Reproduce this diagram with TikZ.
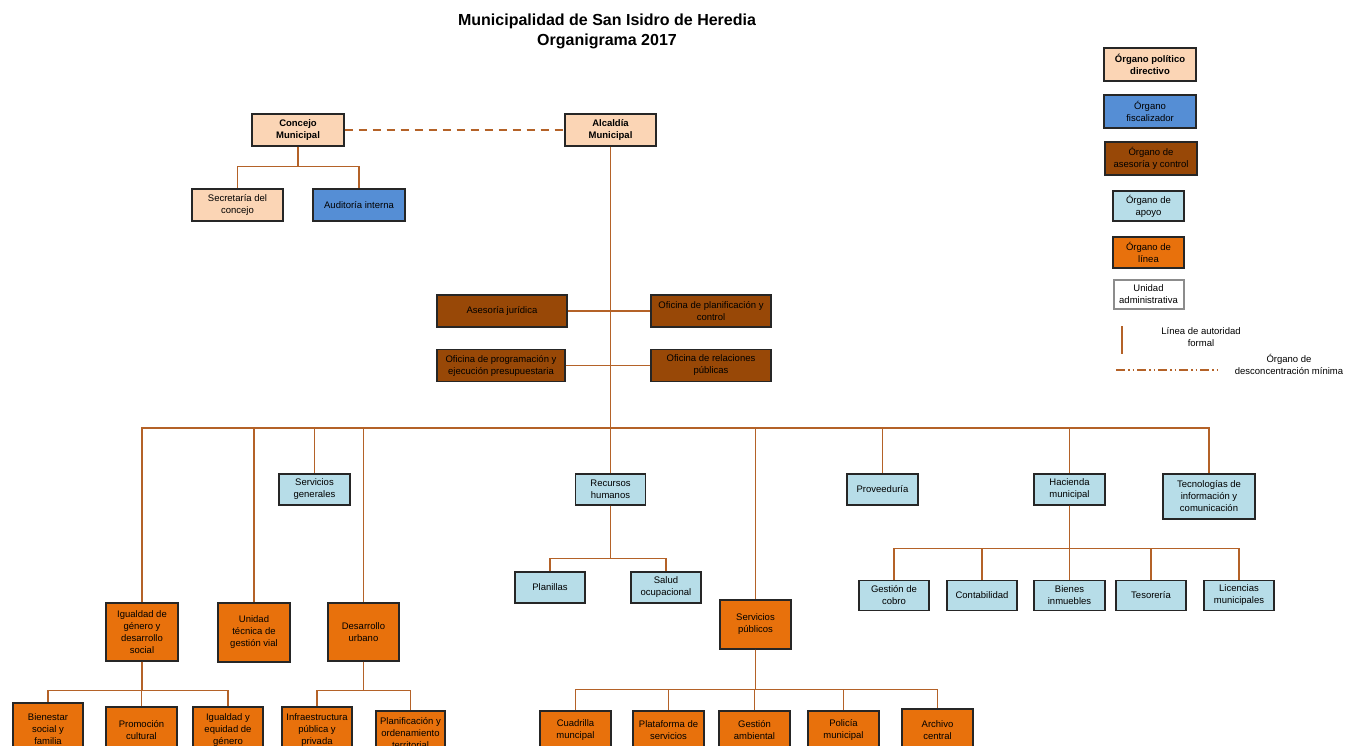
\documentclass[tikz,border=0pt]{standalone}
\usepackage{fontspec}
\setmainfont{Liberation Sans}
\definecolor{peach}{HTML}{FBD5B5}
\definecolor{fblue}{HTML}{558ED5}
\definecolor{fbrown}{HTML}{984807}
\definecolor{lblue}{HTML}{B7DDE8}
\definecolor{forange}{HTML}{E8710C}
\definecolor{conncol}{RGB}{180,98,40}
\definecolor{bordercol}{HTML}{262626}
\tikzset{
  box/.style={draw=bordercol, line width=1.1pt, inner sep=1pt, align=center,
    font=\fontsize{9.5}{12}\selectfont},
  pol/.style={box, fill=peach, font=\fontsize{9.5}{12}\selectfont\bfseries},
  sec/.style={box, fill=peach},
  fis/.style={box, fill=fblue},
  ase/.style={box, fill=fbrown},
  apo/.style={box, fill=lblue},
  lin/.style={box, fill=forange},
  uadm/.style={box, fill=white, draw=gray!90, line width=2pt},
  conn/.style={draw=conncol, line width=1.3pt},
  dconn/.style={conn, dash pattern=on 8pt off 6pt},
  ddconn/.style={conn, dash pattern=on 9pt off 3pt on 1.5pt off 3pt on 1.5pt off 3pt},
  ltext/.style={align=center, inner sep=0pt, font=\fontsize{9.5}{12}\selectfont},
  wh/.style 2 args={minimum width=#1pt, minimum height=#2pt}
}
\begin{document}
\begin{tikzpicture}[x=1pt,y=-1pt]
\useasboundingbox (0,0) rectangle (1346,746);
\clip (0,0) rectangle (1346,746);
\fill[white] (0,0) rectangle (1346,746);

% title
\node[align=center, inner sep=0pt, font=\fontsize{16}{19.5}\selectfont\bfseries] (title) at (607,31.5)
  {Municipalidad de San Isidro de Heredia\\Organigrama 2017};

% top
\node[pol, wh={92}{32}] (concejo) at (298,130) {Concejo\\Municipal};
\node[pol, wh={91}{32}] (alcaldia) at (610.5,130) {Alcaldía\\Municipal};
\node[sec, wh={91}{32}] (secretaria) at (237.5,205) {Secretaría del\\concejo};
\node[fis, wh={92}{32}] (auditoria) at (359,205) {Auditoría interna};

% staff
\node[ase, wh={130}{32}] (asesoria) at (502,311) {Asesoría jurídica};
\node[ase, wh={120}{32}] (planif) at (711,311) {Oficina de planificación y\\control};
\node[ase, wh={128}{32}] (program) at (501,365.5) {Oficina de programación y\\ejecución presupuestaria};
\node[ase, wh={120}{32}] (relaciones) at (711,365.5) {Oficina de relaciones\\públicas};

% second level
\node[apo, wh={71}{31}] (servgen) at (314.5,489.5) {Servicios\\generales};
\node[apo, wh={70}{31}] (rh) at (610.5,489.5) {Recursos\\humanos};
\node[apo, wh={71}{31}] (prov) at (882.5,489.5) {Proveeduría};
\node[apo, wh={71}{31}] (hacienda) at (1069.5,489.5) {Hacienda\\municipal};
\node[apo, wh={92}{45}] (tec) at (1209,496.5) {Tecnologías de\\información y\\comunicación};

\node[apo, wh={70}{31}] (planillas) at (550,587.5) {Planillas};
\node[apo, wh={70}{31}] (salud) at (666,587.5) {Salud\\ocupacional};

\node[apo, wh={70}{30}] (cobro) at (894,595.5) {Gestión de\\cobro};
\node[apo, wh={70}{30}] (contab) at (982,595.5) {Contabilidad};
\node[apo, wh={71}{30}] (bienes) at (1069.5,595.5) {Bienes\\inmuebles};
\node[apo, wh={70}{30}] (tesoreria) at (1151,595.5) {Tesorería};
\node[apo, wh={70}{30}] (licencias) at (1239,595.5) {Licencias\\municipales};

\node[lin, wh={72}{58}] (igualdad) at (142,632) {Igualdad de\\género y\\desarrollo\\social};
\node[lin, wh={72}{59}] (vial) at (254,632.5) {Unidad\\técnica de\\gestión vial};
\node[lin, wh={71}{58}] (desurb) at (363.5,632) {Desarrollo\\urbano};
\node[lin, wh={71}{49}] (servpub) at (755.5,624.5) {Servicios\\públicos};

% bottom row
\node[lin, wh={70}{53}] (bienestar) at (48,729.5) {Bienestar\\social y\\familia};
\node[lin, wh={71}{46}] (promocion) at (141.5,730) {Promoción\\cultural};
\node[lin, wh={70}{46}] (igualdady) at (228,730) {Igualdad y\\equidad de\\género};
\node[lin, wh={70}{46}] (infra) at (317,730) {Infraestructura\\pública y\\privada};
\node[lin, wh={69}{44}] (planterr) at (410.5,733) {Planificación y\\ordenamiento\\territorial};
\node[lin, wh={71}{38}] (cuadrilla) at (575.5,730) {Cuadrilla\\muncipal};
\node[lin, wh={71}{38}] (plataforma) at (668.5,730) {Plataforma de\\servicios};
\node[lin, wh={71}{38}] (gestamb) at (754.5,730) {Gestión\\ambiental};
\node[lin, wh={71}{38}] (policia) at (843.5,730) {Policía\\municipal};
\node[lin, wh={71}{42}] (archivo) at (937.5,730) {Archivo\\central};

% connectors top
\draw[dconn] (concejo.east) -- (alcaldia.west);
\draw[conn] (concejo.south) -- ++(0,20) -| (secretaria.north);
\draw[conn] (concejo.south) -- ++(0,20) -| (auditoria.north);
\draw[conn] (alcaldia.south) -- (rh.north);
\draw[conn] (asesoria.east) -- (planif.west);
\draw[conn] (program.east) -- (relaciones.west);

% bus
\coordinate (bus) at (610.5,428);
\foreach \n in {igualdad, vial, servgen, desurb, servpub, prov, hacienda, tec}
  \draw[conn] (bus) -| (\n.north);

\foreach \n in {planillas, salud}
  \draw[conn] (rh.south) -- ++(0,53) -| (\n.north);
\foreach \n in {cobro, contab, bienes, tesoreria, licencias}
  \draw[conn] (hacienda.south) -- ++(0,43) -| (\n.north);
\foreach \n in {bienestar, promocion, igualdady}
  \draw[conn] (igualdad.south) -- ++(0,29) -| (\n.north);
\foreach \n in {infra, planterr}
  \draw[conn] (desurb.south) -- ++(0,29) -| (\n.north);
\foreach \n in {cuadrilla, plataforma, gestamb, policia, archivo}
  \draw[conn] (servpub.south) -- ++(0,40) -| (\n.north);

% legend
\node[pol, wh={92}{33}] (lg1) at (1150,64.5) {Órgano político\\directivo};
\node[fis, wh={92}{33}] (lg2) at (1150,111.5) {Órgano\\fiscalizador};
\node[ase, wh={92}{33}] (lg3) at (1151,158.5) {Órgano de\\asesoría y control};
\node[apo, wh={71}{30}] (lg4) at (1148.5,206) {Órgano de\\apoyo};
\node[lin, wh={71}{31}] (lg5) at (1148.5,252.5) {Órgano de\\línea};
\node[uadm, wh={70}{29}] (lg6) at (1148.5,294) {Unidad\\administrativa};

\coordinate (la1) at (1122,326);
\coordinate (la2) at (1122,354);
\draw[conn] (la1) -- (la2);
\node[ltext] (lgt1) at (1201,337) {Línea de autoridad\\formal};

\coordinate (ld1) at (1116,370);
\coordinate (ld2) at (1221,370);
\draw[ddconn] (ld1) -- (ld2);
\node[ltext] (lgt2) at (1289,364) {Órgano de\\desconcentración mínima};
\end{tikzpicture}
\end{document}
